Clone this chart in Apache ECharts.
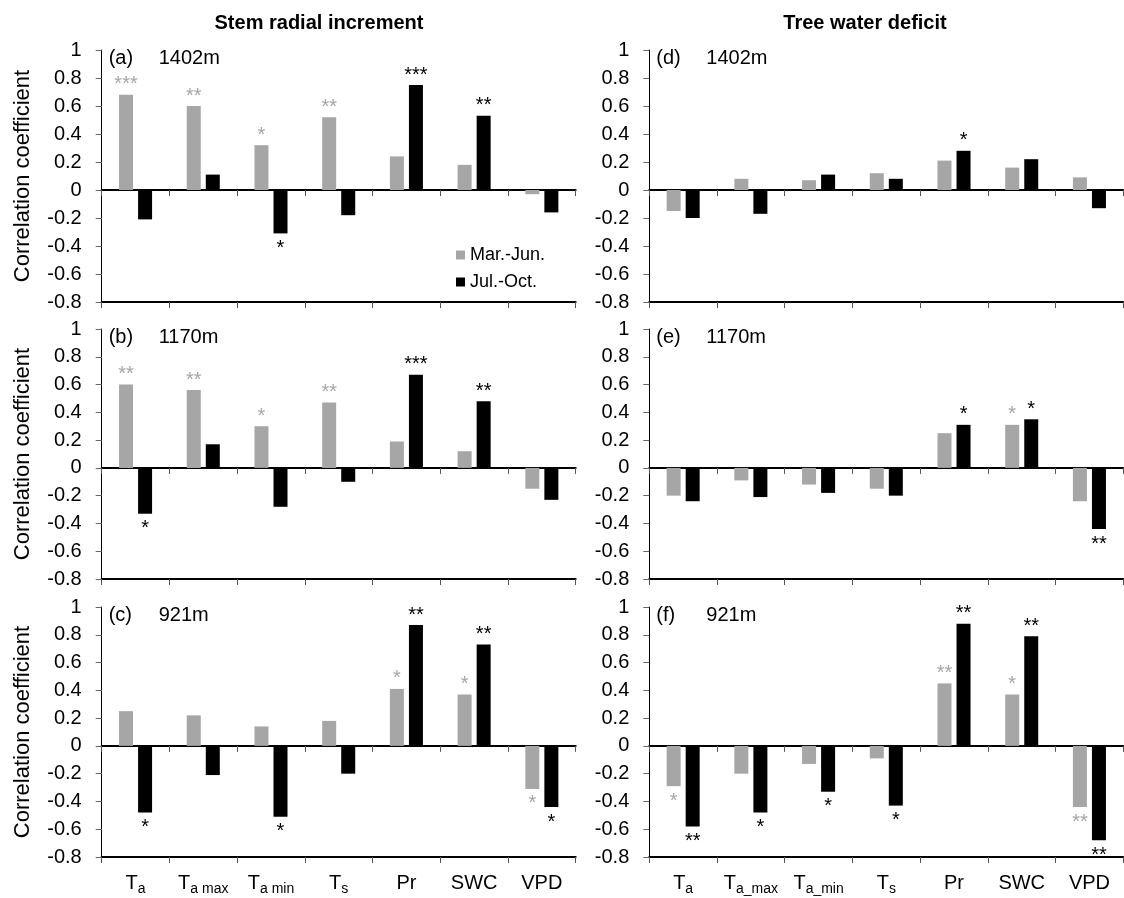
<!DOCTYPE html>
<html>
<head>
<meta charset="utf-8">
<script src="https://cdn.jsdelivr.net/npm/echarts@6/dist/echarts.min.js"></script>
<style>
html,body{margin:0;padding:0;background:#fff}
#chart{width:1124px;height:898px}
</style>
</head>
<body>
<div id="chart"></div>
<script>
// categories and axis label parts
var categories = ['Ta', 'Ta_max', 'Ta_min', 'Ts', 'Pr', 'SWC', 'VPD'];
var mainText = ['T', 'T', 'T', 'T', 'Pr', 'SWC', 'VPD'];
var subLeft = ['a', 'a max', 'a min', 's', '', '', ''];
var subRight = ['a', 'a_max', 'a_min', 's', '', '', ''];
var legendNames = ['Mar.-Jun.', 'Jul.-Oct.'];

// (a) stem radial increment 1402m
var gray_a = [0.68, 0.60, 0.32, 0.52, 0.24, 0.18, -0.03];
var black_a = [-0.21, 0.11, -0.31, -0.18, 0.75, 0.53, -0.16];
var sigGray_a = ['***', '**', '*', '**', '', '', ''];
var sigBlack_a = ['', '', '*', '', '***', '**', ''];
// (b) 1170m
var gray_b = [0.60, 0.56, 0.30, 0.47, 0.19, 0.12, -0.15];
var black_b = [-0.33, 0.17, -0.28, -0.10, 0.67, 0.48, -0.23];
var sigGray_b = ['**', '**', '*', '**', '', '', ''];
var sigBlack_b = ['*', '', '', '', '***', '**', ''];
// (c) 921m
var gray_c = [0.25, 0.22, 0.14, 0.18, 0.41, 0.37, -0.31];
var black_c = [-0.48, -0.21, -0.51, -0.20, 0.87, 0.73, -0.44];
var sigGray_c = ['', '', '', '', '*', '*', '*'];
var sigBlack_c = ['*', '', '*', '', '**', '**', '*'];
// (d) tree water deficit 1402m
var gray_d = [-0.15, 0.08, 0.07, 0.12, 0.21, 0.16, 0.09];
var black_d = [-0.20, -0.17, 0.11, 0.08, 0.28, 0.22, -0.13];
var sigGray_d = ['', '', '', '', '', '', ''];
var sigBlack_d = ['', '', '', '', '*', '', ''];
// (e) 1170m
var gray_e = [-0.20, -0.09, -0.12, -0.15, 0.25, 0.31, -0.24];
var black_e = [-0.24, -0.21, -0.18, -0.20, 0.31, 0.35, -0.44];
var sigGray_e = ['', '', '', '', '', '*', ''];
var sigBlack_e = ['', '', '', '', '*', '*', '**'];
// (f) 921m
var gray_f = [-0.29, -0.20, -0.13, -0.09, 0.45, 0.37, -0.44];
var black_f = [-0.58, -0.48, -0.33, -0.43, 0.88, 0.79, -0.68];
var sigGray_f = ['*', '', '', '', '**', '*', '**'];
var sigBlack_f = ['**', '*', '*', '*', '**', '**', '**'];

var FONT = '"Liberation Sans", Arial, sans-serif';
var GRAY = '#a6a6a6';

var panels = [
    {tag: '(a)', site: '1402m', left: 101.7, top: 50, height: 252, gray: gray_a, black: black_a, sg: sigGray_a, sb: sigBlack_a, subs: subLeft, xlab: false, yname: true},
    {tag: '(b)', site: '1170m', left: 101.7, top: 329, height: 250, gray: gray_b, black: black_b, sg: sigGray_b, sb: sigBlack_b, subs: subLeft, xlab: false, yname: true},
    {tag: '(c)', site: '921m', left: 101.7, top: 607, height: 250, gray: gray_c, black: black_c, sg: sigGray_c, sb: sigBlack_c, subs: subLeft, xlab: true, yname: true},
    {tag: '(d)', site: '1402m', left: 649.3, top: 50, height: 252, gray: gray_d, black: black_d, sg: sigGray_d, sb: sigBlack_d, subs: subRight, xlab: false, yname: false},
    {tag: '(e)', site: '1170m', left: 649.3, top: 329, height: 250, gray: gray_e, black: black_e, sg: sigGray_e, sb: sigBlack_e, subs: subRight, xlab: false, yname: false},
    {tag: '(f)', site: '921m', left: 649.3, top: 607, height: 250, gray: gray_f, black: black_f, sg: sigGray_f, sb: sigBlack_f, subs: subRight, xlab: true, yname: false}
];

function barSeries(vals, sigs, color, name, idx) {
    return {
        type: 'bar',
        name: name,
        xAxisIndex: idx * 2,
        yAxisIndex: idx,
        barWidth: 14,
        barGap: '36%',
        itemStyle: {color: color},
        label: {fontSize: 20, color: color, fontFamily: FONT},
        data: vals.map(function (v, k) {
            return {
                value: v,
                label: {
                    show: sigs[k] !== '',
                    formatter: sigs[k],
                    position: v >= 0 ? 'top' : 'bottom',
                    distance: v >= 0 ? 0 : 5
                }
            };
        })
    };
}

var grids = [], xAxes = [], yAxes = [], series = [], graphics = [];

panels.forEach(function (p, i) {
    grids.push({left: p.left, top: p.top, width: 474, height: p.height});

    // zero line with ticks
    xAxes.push({
        gridIndex: i, type: 'category', data: categories, position: 'bottom',
        axisLine: {onZero: true, lineStyle: {color: '#000', width: 2}},
        axisTick: {show: true, length: 6, lineStyle: {color: '#555', width: 1}},
        axisLabel: {show: false},
        splitLine: {show: false}
    });
    // bottom line (-0.8) with labels
    xAxes.push({
        gridIndex: i, type: 'category', data: categories, position: 'bottom',
        axisLine: {onZero: false, lineStyle: {color: '#000', width: 2}},
        axisTick: {show: true, length: 6, lineStyle: {color: '#555', width: 1}},
        axisLabel: {
            show: p.xlab, interval: 0, margin: 13,
            formatter: function (val, k) {
                var s = p.subs[k];
                return s ? '{m|' + mainText[k] + '}{s|' + s + '}' : '{m|' + mainText[k] + '}';
            },
            rich: {
                m: {fontSize: 20, lineHeight: 26, color: '#000', fontFamily: FONT},
                s: {fontSize: 14, lineHeight: 14, verticalAlign: 'bottom', color: '#000', fontFamily: FONT}
            }
        },
        splitLine: {show: false}
    });

    yAxes.push({
        gridIndex: i, type: 'value', min: -0.8, max: 1, interval: 0.2,
        axisLine: {show: true, lineStyle: {color: '#000', width: 1}},
        axisTick: {show: true, length: 6, lineStyle: {color: '#666'}},
        axisLabel: {
            fontSize: 20, color: '#000', margin: 20, fontFamily: FONT,
            formatter: function (v) { return String(Math.round(v * 10) / 10); }
        },
        splitLine: {show: false},
        name: p.yname ? 'Correlation coefficient' : '',
        nameLocation: 'middle',
        nameGap: 68,
        nameTextStyle: {fontSize: 22, color: '#000', fontFamily: FONT}
    });

    series.push(barSeries(p.gray, p.sg, GRAY, legendNames[0], i));
    series.push(barSeries(p.black, p.sb, '#000', legendNames[1], i));

    graphics.push({type: 'text', x: p.left + 7, y: p.top + 8,
        style: {text: p.tag, font: '20px ' + FONT, fill: '#000', verticalAlign: 'middle', textVerticalAlign: 'middle'}});
    graphics.push({type: 'text', x: p.left + 57, y: p.top + 8,
        style: {text: p.site, font: '20px ' + FONT, fill: '#000', verticalAlign: 'middle', textVerticalAlign: 'middle'}});
});

graphics.push({type: 'text', x: 319, y: 23,
    style: {text: 'Stem radial increment', font: 'bold 20px ' + FONT, fill: '#000',
        align: 'center', textAlign: 'center', verticalAlign: 'middle', textVerticalAlign: 'middle'}});
graphics.push({type: 'text', x: 865, y: 23,
    style: {text: 'Tree water deficit', font: 'bold 20px ' + FONT, fill: '#000',
        align: 'center', textAlign: 'center', verticalAlign: 'middle', textVerticalAlign: 'middle'}});

var myChart = echarts.init(document.getElementById('chart'));
var option = {
    backgroundColor: '#fff',
    animation: false,
    textStyle: {fontFamily: FONT},
    legend: {
        data: legendNames,
        orient: 'vertical',
        left: 451, top: 241,
        icon: 'rect',
        itemWidth: 9, itemHeight: 9, itemGap: 9,
        textStyle: {fontSize: 18, color: '#000', fontFamily: FONT}
    },
    grid: grids,
    xAxis: xAxes,
    yAxis: yAxes,
    series: series,
    graphic: graphics
};
myChart.setOption(option);
</script>
</body>
</html>
